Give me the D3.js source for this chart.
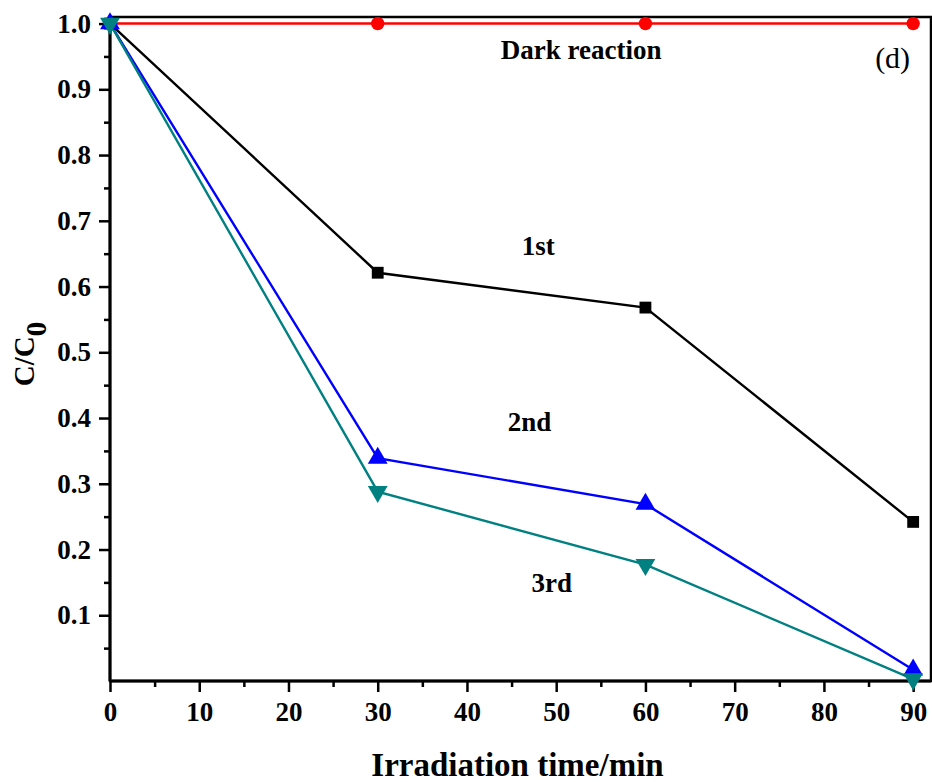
<!DOCTYPE html>
<meta charset="utf-8">
<script src="https://d3js.org/d3.v7.min.js"></script>
<style>
  body { margin: 0; background: #fff; }
  text { font-family: "Liberation Serif", "Times New Roman", serif; }
</style>
<div id="chart"></div>
<script>
// time points (min)
var times = [0, 30, 60, 90];
var darkValues = [1.0, 1.0, 1.0, 1.0];
var firstValues = [1.0, 0.621, 0.568, 0.242];
var secondValues = [1.0, 0.339, 0.269, 0.017];
var thirdValues = [1.0, 0.288, 0.177, 0.003];
var xTicks = [0, 10, 20, 30, 40, 50, 60, 70, 80, 90];
var yTicks = [0.1, 0.2, 0.3, 0.4, 0.5, 0.6, 0.7, 0.8, 0.9, 1.0];

var margin = {top: 17, right: 1, bottom: 101, left: 110},
    width = 932 - margin.left - margin.right,
    height = 782 - margin.top - margin.bottom;

var svg = d3.select("#chart")
  .append("svg")
    .attr("width", 932)
    .attr("height", 782)
  .append("g")
    .attr("transform", "translate(" + margin.left + "," + margin.top + ")");

var x = d3.scaleLinear().domain([0, 92]).range([0, width]);
var y = d3.scaleLinear().domain([0, 1.01]).range([height, 0]);

// minor ticks
svg.append("g")
  .attr("transform", "translate(0," + height + ")")
  .call(d3.axisBottom(x).tickValues(d3.range(5, 92, 10)).tickSize(6).tickFormat(""))
  .call(g => g.select(".domain").remove())
  .call(g => g.selectAll("line").attr("stroke-width", 2.5));
svg.append("g")
  .call(d3.axisLeft(y).tickValues(d3.range(0.05, 1.0, 0.1)).tickSize(6).tickFormat(""))
  .call(g => g.select(".domain").remove())
  .call(g => g.selectAll("line").attr("stroke-width", 2.5));

// major ticks
svg.append("g")
  .attr("transform", "translate(0," + height + ")")
  .call(d3.axisBottom(x).tickValues(xTicks).tickSize(11).tickPadding(10).tickFormat(d3.format("d")))
  .call(g => g.select(".domain").remove())
  .call(g => g.selectAll("line").attr("stroke-width", 2.5))
  .call(g => g.selectAll("text").attr("font-size", 27).attr("font-weight", "bold").attr("fill", "#000"));
svg.append("g")
  .call(d3.axisLeft(y).tickValues(yTicks).tickSize(11).tickPadding(8).tickFormat(d3.format(".1f")))
  .call(g => g.select(".domain").remove())
  .call(g => g.selectAll("line").attr("stroke-width", 2.5))
  .call(g => g.selectAll("text").attr("font-size", 27).attr("font-weight", "bold").attr("fill", "#000"));

// frame
svg.append("rect")
  .attr("width", width).attr("height", height)
  .attr("fill", "none").attr("stroke", "#000").attr("stroke-width", 2.5);
svg.append("line").attr("x1", 0).attr("x2", 0).attr("y1", 0).attr("y2", height)
  .attr("stroke", "#000").attr("stroke-width", 3);
svg.append("line").attr("x1", 0).attr("x2", width).attr("y1", height).attr("y2", height)
  .attr("stroke", "#000").attr("stroke-width", 3);

var line = d3.line()
  .x(function(d, i) { return x(times[i]); })
  .y(function(d) { return y(d); });

var series = [
  {values: darkValues, color: "#ff0000", symbol: d3.symbolCircle, size: 140, rot: 0},
  {values: firstValues, color: "#000000", symbol: d3.symbolSquare, size: 140, rot: 0},
  {values: secondValues, color: "#0000ff", symbol: d3.symbolTriangle, size: 170, rot: 0},
  {values: thirdValues, color: "#008080", symbol: d3.symbolTriangle, size: 170, rot: 180}
];

series.forEach(function(s) {
  svg.append("path")
    .datum(s.values)
    .attr("fill", "none")
    .attr("stroke", s.color)
    .attr("stroke-width", 2.4)
    .attr("d", line);
});
series.forEach(function(s) {
  svg.append("g")
    .selectAll("path")
    .data(s.values)
    .enter()
    .append("path")
      .attr("d", d3.symbol().type(s.symbol).size(s.size))
      .attr("fill", s.color)
      .attr("transform", function(d, i) {
        return "translate(" + x(times[i]) + "," + y(d) + ") rotate(" + s.rot + ")";
      });
});

// labels
var labels = [
  {text: "Dark reaction", t: 52.8, v: 0.946},
  {text: "1st", t: 48, v: 0.648},
  {text: "2nd", t: 47, v: 0.380},
  {text: "3rd", t: 49.5, v: 0.135}
];
svg.selectAll(".lab")
  .data(labels)
  .enter()
  .append("text")
    .attr("x", function(d) { return x(d.t); })
    .attr("y", function(d) { return y(d.v); })
    .attr("text-anchor", "middle")
    .attr("font-size", 27)
    .attr("font-weight", "bold")
    .text(function(d) { return d.text; });

svg.append("text")
  .attr("x", x(87.7))
  .attr("y", y(0.932))
  .attr("text-anchor", "middle")
  .attr("font-size", 30)
  .text("(d)");

// axis titles
svg.append("text")
  .attr("x", width / 2 - 3)
  .attr("y", height + 95)
  .attr("text-anchor", "middle")
  .attr("font-size", 33)
  .attr("font-weight", "bold")
  .text("Irradiation time/min");

var yl = svg.append("text")
  .attr("transform", "translate(" + (-76) + "," + (height / 2 + 5) + ") rotate(-90)")
  .attr("text-anchor", "middle")
  .attr("font-size", 29)
  .attr("font-weight", "bold");
yl.append("tspan").text("C/C");
yl.append("tspan").attr("dy", 12).text("0");
</script>
